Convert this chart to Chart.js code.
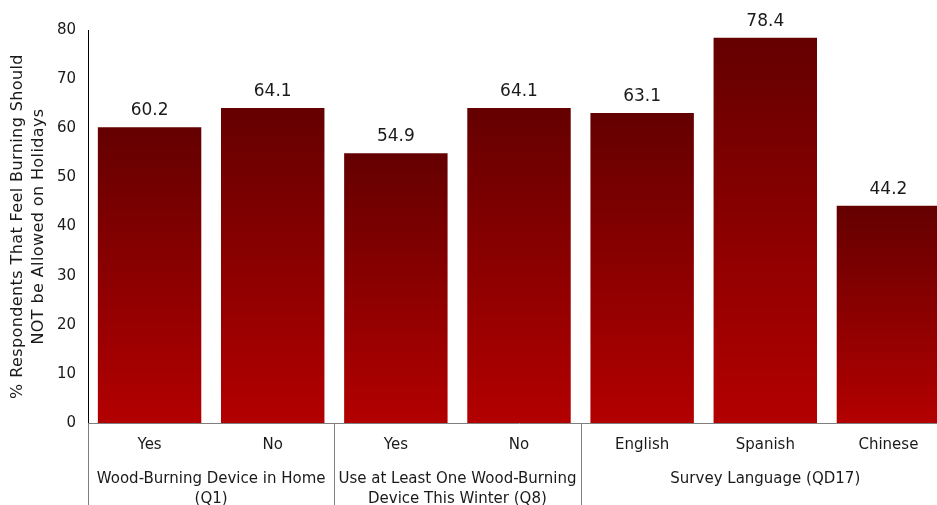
<!DOCTYPE html>
<html>
<head>
<meta charset="utf-8">
<script src="https://cdn.jsdelivr.net/npm/chart.js@4"></script>
<style>
  html, body { margin: 0; padding: 0; background: #fff; overflow: hidden; }
  #wrap { width: 952px; height: 530px; }
</style>
</head>
<body>
<div id="wrap"><canvas id="chart"></canvas></div>
<script>
// sub-category labels, one per bar
const answers = ["Yes", "No", "Yes", "No", "English", "Spanish", "Chinese"];
const percentValues = [60.2, 64.1, 54.9, 64.1, 63.1, 78.4, 44.2];

// group labels (lines) and how many bars each one spans
const groupLabels = [
  ["Wood-Burning Device in Home", "(Q1)"],
  ["Use at Least One Wood-Burning", "Device This Winter (Q8)"],
  ["Survey Language (QD17)"],
];
const groupSizes = [2, 2, 3];

const yTitle = ["% Respondents That Feel Burning Should", "NOT be Allowed on Holidays"];
const FONT = "'DejaVu Sans', Verdana, sans-serif";
const TEXT = "#1a1a1a";

// per-bar vertical gradient, dark at the top to bright red at the base
function barGradient(context) {
  const chart = context.chart;
  if (!chart.chartArea) return "#8a0000";
  const y = chart.scales.y;
  const top = y.getPixelForValue(context.raw);
  const bottom = y.getPixelForValue(0);
  const g = chart.ctx.createLinearGradient(0, top, 0, bottom);
  g.addColorStop(0, "#640000");
  g.addColorStop(1, "#b30000");
  return g;
}

const extras = {
  id: "extras",
  afterDatasetsDraw(chart) {
    const ctx = chart.ctx;
    const x = chart.scales.x;
    const area = chart.chartArea;
    const meta = chart.getDatasetMeta(0);

    // value labels above bars
    ctx.save();
    ctx.fillStyle = TEXT;
    ctx.font = "17px " + FONT;
    ctx.textAlign = "center";
    ctx.textBaseline = "bottom";
    meta.data.forEach((bar, i) => {
      ctx.fillText(percentValues[i].toFixed(1), bar.x, bar.y - 8);
    });

    // group separators and group labels
    const half = (x.getPixelForValue(1) - x.getPixelForValue(0)) / 2;
    ctx.strokeStyle = "#7f7f7f";
    ctx.lineWidth = 1;
    ctx.font = "15px " + FONT;
    ctx.textBaseline = "middle";
    let start = 0;
    const edges = [x.getPixelForValue(0) - half];
    groupSizes.forEach((n, gi) => {
      const left = x.getPixelForValue(start) - half;
      const right = x.getPixelForValue(start + n - 1) + half;
      edges.push(right);
      const cx = (left + right) / 2;
      groupLabels[gi].forEach((line, li) => {
        ctx.fillText(line, cx, area.bottom + 56 + li * 20);
      });
      start += n;
    });
    edges.forEach((ex) => {
      const px = Math.round(ex) + 0.5;
      ctx.beginPath();
      ctx.moveTo(px, area.bottom);
      ctx.lineTo(px, chart.height);
      ctx.stroke();
    });

    // rotated y axis title
    ctx.translate(0, (area.top + area.bottom) / 2);
    ctx.rotate(-Math.PI / 2);
    ctx.font = "16px " + FONT;
    ctx.letterSpacing = "0.4px";
    yTitle.forEach((line, li) => {
      ctx.fillText(line, 0, 18 + li * 21);
    });
    ctx.restore();
  },
};

new Chart(document.getElementById("chart"), {
  type: "bar",
  data: {
    labels: answers,
    datasets: [{
      data: percentValues,
      backgroundColor: barGradient,
      borderWidth: 0,
      barPercentage: 0.84,
      categoryPercentage: 1,
    }],
  },
  options: {
    responsive: true,
    maintainAspectRatio: false,
    animation: false,
    layout: { padding: { top: 30, right: 2, left: 0, bottom: 0 } },
    plugins: { legend: { display: false }, tooltip: { enabled: false } },
    scales: {
      x: {
        grid: { display: false, drawTicks: false },
        border: { color: "#7f7f7f", width: 1 },
        ticks: { color: TEXT, font: { family: FONT, size: 15 }, padding: 13, maxRotation: 0 },
        afterFit(scale) { scale.height = 107; },
      },
      y: {
        min: 0,
        max: 80,
        grid: { display: false, drawTicks: false },
        border: { color: "#000", width: 1 },
        ticks: { stepSize: 10, color: TEXT, font: { family: FONT, size: 15 }, padding: 12 },
        afterFit(scale) { scale.width = 88; },
      },
    },
  },
  plugins: [extras],
});
</script>
</body>
</html>
